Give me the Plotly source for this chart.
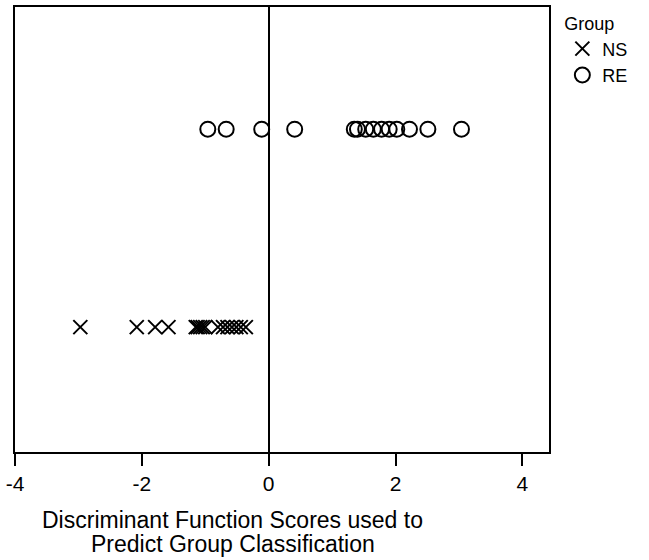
import plotly.graph_objects as go

groups = ["NS", "RE"]
ns_scores = [-2.97, -2.08, -1.79, -1.58, -1.15, -1.12, -1.08, -1.04, -1.00,
             -0.80, -0.72, -0.65, -0.58, -0.51, -0.44, -0.36]
re_scores = [-0.96, -0.67, -0.11, 0.41, 1.35, 1.40, 1.53, 1.65, 1.78, 1.90,
             2.02, 2.22, 2.51, 3.04]
x_ticks = [-4, -2, 0, 2, 4]
x_title_lines = ["Discriminant Function Scores used to",
                 "Predict Group Classification"]
legend_title = "Group"

FONT = "Liberation Sans, Arial, sans-serif"

fig = go.Figure()
fig.add_trace(go.Scatter(
    x=ns_scores, y=[groups[0]] * len(ns_scores), mode="markers", name=groups[0],
    marker=dict(symbol="x-thin", size=14, color="black",
                line=dict(color="black", width=2)),
))
fig.add_trace(go.Scatter(
    x=re_scores, y=[groups[1]] * len(re_scores), mode="markers", name=groups[1],
    marker=dict(symbol="circle-open", size=15, color="black",
                line=dict(color="black", width=2)),
))

# axis title, two lines, placed under the axis
title_y = [-0.152, -0.207]
for line, ty in zip(x_title_lines, title_y):
    fig.add_annotation(
        text=line, xref="paper", yref="paper", x=0.408, y=ty,
        xanchor="center", yanchor="middle", showarrow=False,
        font=dict(size=23, family=FONT, color="black"),
    )

fig.update_layout(
    width=649, height=560,
    margin=dict(l=15, r=100, t=7, b=108),
    plot_bgcolor="white", paper_bgcolor="white",
    font=dict(family=FONT, color="black"),
    showlegend=True,
    legend=dict(
        title=dict(text=legend_title, font=dict(size=18)),
        font=dict(size=18), x=1.025, y=1.0, xanchor="left", yanchor="top",
        itemwidth=30, tracegroupgap=0, bgcolor="rgba(0,0,0,0)",
    ),
    xaxis=dict(
        range=[-4, 4.42], tickvals=x_ticks, ticktext=[str(t) for t in x_ticks],
        ticks="outside", ticklen=12, tickwidth=2, tickcolor="black",
        tickfont=dict(size=21),
        showline=True, linecolor="black", linewidth=2,
        mirror=True, showgrid=False, zeroline=True, zerolinecolor="black",
        zerolinewidth=2, automargin=False,
    ),
    yaxis=dict(
        type="category", categoryorder="array", categoryarray=groups,
        range=[-0.631, 1.617], showticklabels=False, ticks="",
        showline=True, linecolor="black", linewidth=2, mirror=True,
        showgrid=False, zeroline=False, automargin=False,
    ),
)

fig.write_html(
    "out.html",
    config={"displayModeBar": False},
    post_script="document.body.style.margin='0';document.body.style.padding='0';",
)
